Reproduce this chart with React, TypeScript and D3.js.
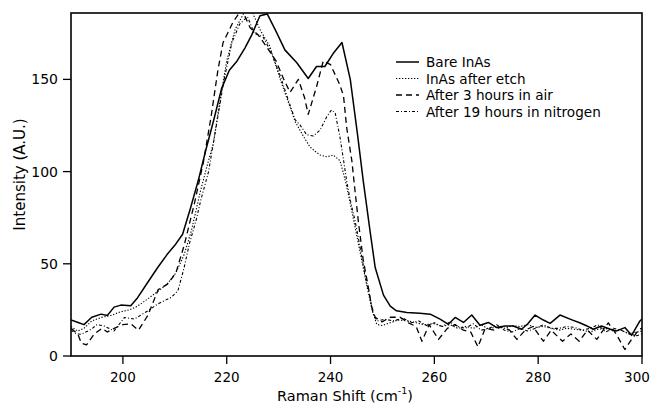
import React from "react";
import * as d3 from "d3";

const xTicks = [200, 220, 240, 260, 280, 300];
const yTicks = [0, 50, 100, 150];

const seriesNames = ["Bare InAs", "InAs after etch", "After 3 hours in air", "After 19 hours in nitrogen"];

const bareInAs: [number, number][] = [
  [190, 19.5], [191.5, 18], [192.5, 17], [194, 21], [195.8, 22.7], [197, 22], [198.3, 26.5],
  [199.6, 27.6], [201.5, 27.2], [202.8, 31.5], [204.8, 40], [206.7, 48], [208.5, 55], [210, 60],
  [211.5, 66], [213, 80], [214.5, 95], [216, 112], [217.5, 128], [219, 145], [220.5, 155],
  [222, 160], [223.5, 167], [224.8, 174], [226.4, 184.5], [227.8, 185.5], [229.5, 176],
  [231.2, 166], [233.5, 159], [235.7, 150.5], [237.3, 157], [238.9, 157], [240.5, 164],
  [242.2, 170], [243.8, 150], [245.2, 120], [246.3, 95], [247.6, 68], [248.6, 48], [250.2, 33],
  [251.5, 27], [252.7, 24.5], [254.7, 23.6], [257.2, 23.2], [259.2, 22.7], [261.1, 20],
  [262.7, 17.2], [264, 20.9], [265.6, 18.2], [267.2, 22.2], [268.8, 16.7], [270.4, 18.2],
  [272, 15.4], [273.6, 16.3], [275.2, 16.3], [276.8, 14.5], [278, 17.5], [279.4, 22.2],
  [281, 19.5], [282.3, 17.7], [284.2, 22.2], [286.5, 19.6], [288, 18], [289.4, 16.3],
  [290.6, 14.5], [292.2, 16.3], [293.9, 14.5], [295.1, 13.6], [296.7, 15.4], [298, 11.2],
  [299.6, 19], [300, 20],
];

const afterEtch: [number, number][] = [
  [190, 16], [191.3, 13.5], [192.5, 15], [194, 19], [195.8, 20.9], [197.7, 22], [199.6, 24],
  [201.2, 25], [202.8, 27], [204.8, 31], [206.7, 35], [208.5, 39], [210.2, 45], [211.8, 55],
  [213.2, 68], [214.9, 89], [216.2, 103], [217.4, 115], [218.8, 140], [220, 160], [221.6, 177],
  [223.5, 187], [225, 186], [226.4, 177], [228.3, 168], [230.3, 150], [232.2, 135], [233.2, 127],
  [234.8, 119], [236, 113.5], [237, 111], [238, 109], [239.3, 108], [240.5, 109], [241.8, 106],
  [242.5, 99], [243.1, 92], [244, 80], [245, 66], [246, 52], [247, 38], [248, 25], [248.9, 17.2],
  [249.9, 16.5], [251.5, 18], [253, 19.5], [255, 19], [256.5, 18], [258, 17], [260, 17.5],
  [261.5, 16], [263, 17], [264.5, 15], [266, 16], [267.5, 15], [269, 17], [270.5, 14.5],
  [272, 16], [273.5, 15], [275, 16.5], [276.5, 16], [278, 17], [279.5, 15.5], [281, 16],
  [282.5, 15], [284, 14], [285.5, 15], [287, 14.5], [288.5, 14], [290, 13], [291.5, 14.5],
  [293, 15], [294.5, 13.5], [296, 14], [297.5, 12], [299, 13], [300, 13.5],
];

const after3hAir: [number, number][] = [
  [190, 15], [191.3, 12], [192, 7], [193, 6], [194.5, 12], [196, 15], [197, 13], [198.3, 15],
  [200, 17], [201.5, 17.5], [203, 14], [204.8, 22], [206.8, 36], [208.6, 39], [210.2, 45],
  [211.8, 60], [213.8, 83], [215.5, 105], [217, 130], [218.3, 155], [219.3, 170], [221.2, 181],
  [222.9, 188], [224.5, 178], [226.1, 174], [227.6, 168], [229.5, 160], [231, 150], [232.2, 143],
  [233.8, 150], [235, 140], [235.7, 131], [237.3, 146], [238.6, 160], [240, 158], [241.8, 147],
  [242.5, 141], [243.1, 124], [244.1, 106], [244.7, 90], [245.4, 72], [246.3, 52], [247.3, 37],
  [247.9, 27], [248.6, 21], [249.9, 18.5], [251.5, 21], [253.4, 21], [255, 18], [256.5, 16],
  [257.6, 8], [259, 17], [260.8, 9], [262.5, 15], [264, 17], [265.6, 14], [267, 13], [268.4, 5],
  [269.8, 15], [271.5, 14], [273, 16], [274.5, 14], [275.9, 9], [277.5, 14], [279, 16], [281, 8],
  [282.5, 14], [284.7, 8], [286.3, 12], [287.9, 8], [289.5, 14], [291.3, 9], [293.5, 18],
  [295, 12], [296.7, 3.5], [298, 9], [299.5, 14.6], [300, 15],
];

const after19hN2: [number, number][] = [
  [190, 14], [191, 12], [192, 11.8], [193.9, 14.5], [195, 17], [196.4, 16.3], [198.3, 13.6],
  [200.3, 20.9], [202.2, 20], [204.8, 24.5], [206.7, 28.2], [208, 30], [209.3, 31.8],
  [210.6, 35.4], [211.8, 48], [212.8, 60.8], [214.1, 73.6], [215, 84.5], [216.5, 100],
  [218, 125], [219.5, 150], [221, 170], [222.5, 180], [224, 184], [225.3, 175], [227, 173],
  [228.5, 165], [230.3, 152], [232.2, 136], [233.2, 128], [234.1, 125.3], [235.4, 120],
  [236.7, 119.3], [238, 122.6], [239.3, 129.9], [240.2, 133.5], [240.9, 131.7], [241.8, 119],
  [242.5, 106.3], [243.1, 95], [243.8, 84.5], [244.7, 73.6], [245.7, 59], [246.6, 44.5],
  [247.6, 31.8], [248.2, 22.7], [249, 19], [250.5, 20], [252, 19], [254, 20.5], [255.5, 18],
  [257, 19], [258.5, 16.5], [260, 18], [261.5, 16], [263, 18.5], [264.5, 16], [266, 15],
  [267.5, 17.5], [269, 14], [270.5, 15], [272, 17], [273.5, 14], [275, 13], [276.5, 15],
  [278, 13.5], [279.5, 15], [281, 17], [282.5, 15], [284, 15], [285.5, 16], [287, 15.5],
  [288.5, 14], [290, 15], [291.5, 17], [293, 13], [294.5, 15], [296, 14], [297.5, 12],
  [299, 11], [300, 12],
];

const allSeries = [bareInAs, afterEtch, after3hAir, after19hN2];
const dashes = ["none", "1.3 1.7", "6 4", "3 2 1 2"];
const widths = [1.5, 1.1, 1.3, 1.1];

export default function App() {
  const W = 652, H = 404;
  const left = 71, right = 642, top = 13, bottom = 356;
  const x = d3.scaleLinear().domain([190, 300]).range([left, right]);
  const y = d3.scaleLinear().domain([0, 186]).range([bottom, top]);
  const line = d3.line<[number, number]>().x(d => x(d[0])).y(d => y(d[1]));
  const font = "'DejaVu Sans', sans-serif";

  const legX1 = 396, legX2 = 419, legTx = 426, legY0 = 62, legDy = 16.5;

  return (
    <svg width={W} height={H} style={{ position: "absolute", left: 0, top: 0, background: "#fff" }}
      fontFamily={font}>
      <defs>
        <clipPath id="plot">
          <rect x={left} y={top} width={right - left} height={bottom - top} />
        </clipPath>
      </defs>
      <rect x={0} y={0} width={W} height={H} fill="#fff" />
      <g clipPath="url(#plot)">
        {allSeries.map((s, i) => (
          <path key={i} d={line(s) || ""} fill="none" stroke="#000" strokeWidth={widths[i]}
            strokeDasharray={dashes[i]} strokeLinejoin="round" />
        ))}
      </g>
      <rect x={left} y={top} width={right - left} height={bottom - top} fill="none" stroke="#000" strokeWidth={1.6} />
      {xTicks.map(t => (
        <g key={t}>
          <line x1={x(t)} x2={x(t)} y1={bottom} y2={bottom + 8} stroke="#000" strokeWidth={1.3} />
          <text x={Math.min(x(t), W - 15)} y={382} textAnchor="middle" fontSize={13.5}>{t}</text>
        </g>
      ))}
      {yTicks.map(t => (
        <g key={t}>
          <line x1={left - 8} x2={left} y1={y(t)} y2={y(t)} stroke="#000" strokeWidth={1.3} />
          <text x={58} y={y(t) + 5} textAnchor="end" fontSize={14}>{t}</text>
        </g>
      ))}
      <text x={345} y={401} textAnchor="middle" fontSize={14.5}>
        Raman Shift (cm<tspan fontSize={9.5} dy={-7}>-1</tspan><tspan dy={7}>)</tspan>
      </text>
      <text transform={`translate(25,${(top + bottom) / 2 - 10}) rotate(-90)`} textAnchor="middle" fontSize={15}>
        Intensity (A.U.)
      </text>
      {seriesNames.map((n, i) => (
        <g key={n}>
          <line x1={legX1} x2={legX2} y1={legY0 + i * legDy} y2={legY0 + i * legDy} stroke="#000"
            strokeWidth={widths[i]} strokeDasharray={dashes[i]} />
          <text x={legTx} y={legY0 + i * legDy + 5} fontSize={13.6}>{n}</text>
        </g>
      ))}
    </svg>
  );
}
